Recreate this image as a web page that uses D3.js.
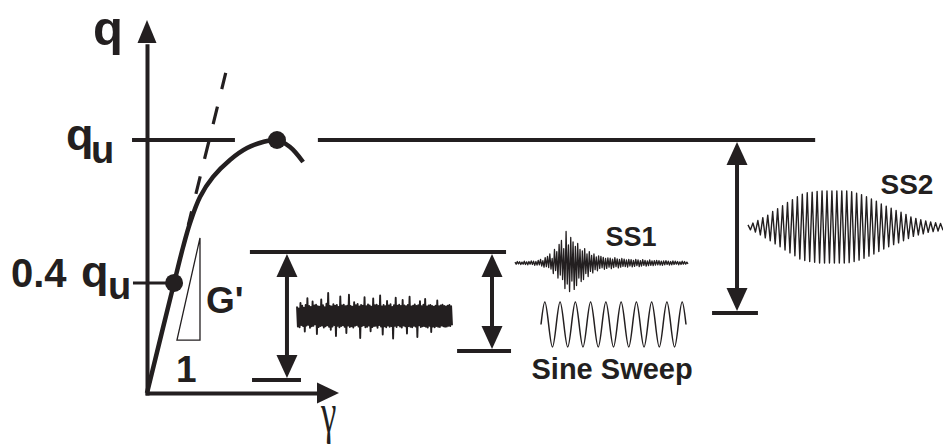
<!DOCTYPE html>
<html>
<head>
<meta charset="utf-8">
<script src="https://cdn.jsdelivr.net/npm/d3@7"></script>
<style>
  html, body { margin: 0; padding: 0; background: #fff; }
  #chart { width: 943px; height: 447px; }
  text { font-family: "Liberation Sans", Arial, sans-serif; font-weight: bold; fill: #231f20; }
</style>
</head>
<body>
<div id="chart"></div>
<script>
// stress-strain curve (gamma in arbitrary strain units, q as fraction of q_u)
var curveGamma = [0, 14.1, 18.8, 22.4, 27.6, 34.4, 43.2, 52.1, 60.4, 67.7, 74.5, 81.3];
var curveQ = [0, 0.435, 0.577, 0.672, 0.775, 0.854, 0.921, 0.968, 0.992, 1, 0.972, 0.913];

// initial tangent (G') and the slope triangle
var tangentGamma = [21.5, 41.0];
var tangentQ = [0.664, 1.265];
var slopeGamma = [27.6, 15.6, 27.6];
var slopeQ = [0.613, 0.209, 0.209];

// marked stress levels
var levelLabels = ["q_u", "0.4 q_u"];
var levelQ = [1, 0.435];
var markGamma = [67.7, 14.1];

// amplitude brackets for the three test signals
var bracketGamma = [72.9, 179.7, 307.3];
var bracketTop = [0.557, 0.557, 1];
var bracketBottom = [0.051, 0.166, 0.316];
var bracketFoot = [[54.7, 80.2], [161.5, 189.6], [294.3, 318.2]];

// signal names
var signalLabels = ["SS1", "Sine Sweep", "SS2"];

// white noise record (normalised amplitude)
var noise = [
  0.38,-0.42,0.30,-0.45,0.52,-0.36,0.41,-0.40,0.33,-0.62,
  0.44,-0.38,0.71,-0.35,0.40,-0.47,0.36,-0.41,0.58,-0.39,
  0.42,-0.33,0.45,-0.72,0.39,-0.44,0.37,-0.40,0.66,-0.38,
  0.43,-0.46,0.35,-0.41,0.49,-0.37,0.92,-0.43,0.40,-0.55,
  0.38,-0.42,0.47,-0.36,0.41,-0.80,0.44,-0.39,0.36,-0.45,
  0.78,-0.40,0.42,-0.37,0.45,-0.43,0.39,-0.68,0.41,-0.38,
  0.85,-0.44,0.40,-0.41,0.37,-0.46,0.55,-0.39,0.43,-0.36,
  0.48,-0.42,0.38,-0.88,0.44,-0.40,0.41,-0.37,0.75,-0.45,
  0.39,-0.43,0.46,-0.38,0.42,-0.61,0.37,-0.44,0.70,-0.40,
  0.43,-0.39,0.45,-0.47,0.40,-0.36,0.82,-0.42,0.38,-0.74,
  0.44,-0.41,0.39,-0.45,0.60,-0.38,0.42,-0.43,0.47,-0.40,
  0.36,-0.90,0.43,-0.39,0.73,-0.44,0.41,-0.37,0.45,-0.42,
  0.40,-0.46,0.64,-0.38,0.42,-0.41,0.39,-0.70,0.44,-0.40,
  0.77,-0.43,0.38,-0.45,0.41,-0.39,0.46,-0.42,0.40,-0.84,
  0.43,-0.37,0.59,-0.44,0.39,-0.41,0.45,-0.40,0.68,-0.43,
  0.38,-0.46,0.42,-0.39,0.44,-0.64,0.40,-0.42,0.37,-0.45,
  0.41,-0.40,0.62,-0.43,0.39,-0.44,0.42,-0.38,0.45,-0.41,
  0.40,-0.43,0.38,-0.42,0.41,-0.39,0.44,-0.40,0.39,-0.37
];

// earthquake-like record SS1
var ss1 = [
  0.03,-0.04,0.05,-0.03,0.04,-0.05,0.03,-0.04,0.06,-0.05,
  0.04,-0.06,0.05,-0.04,0.07,-0.05,0.06,-0.08,0.05,-0.07,
  0.09,-0.06,0.12,-0.10,0.08,-0.14,0.18,-0.12,0.22,-0.15,
  0.30,-0.20,0.15,-0.35,0.45,-0.25,0.38,-0.50,0.62,-0.40,
  0.75,-0.55,0.48,-0.85,1.05,-0.70,0.60,-0.95,0.85,-0.60,
  0.70,-0.88,0.55,-0.75,0.65,-0.50,0.45,-0.62,0.40,-0.55,
  0.48,-0.35,0.30,-0.45,0.38,-0.28,0.25,-0.33,0.30,-0.22,
  0.20,-0.26,0.24,-0.18,0.22,-0.16,0.19,-0.21,0.15,-0.18,
  0.17,-0.14,0.16,-0.19,0.13,-0.15,0.18,-0.12,0.14,-0.16,
  0.12,-0.14,0.15,-0.11,0.13,-0.12,0.10,-0.14,0.12,-0.10,
  0.11,-0.13,0.09,-0.11,0.12,-0.09,0.10,-0.12,0.08,-0.10,
  0.11,-0.08,0.09,-0.10,0.07,-0.09,0.10,-0.08,0.07,-0.09,
  0.08,-0.07,0.09,-0.06,0.08,-0.07,0.06,-0.08,0.07,-0.06,
  0.08,-0.05,0.06,-0.07,0.05,-0.06,0.07,-0.05,0.06,-0.04,
  0.05,-0.06,0.04,-0.05,0.06,-0.04,0.05,-0.04,0.03,-0.03
];

// sine sweep, sampled every quarter period
var sineSweep = [
  0, 1,0,-1,0, 1,0,-1,0, 1,0,-1,0, 1,0,-1,0, 1,0,-1,0,
  1,0,-1,0, 1,0,-1,0, 1,0,-1,0, 1,0,-1,0, 1,0
];

// SS2 wavelet, one value per half cycle
var ss2 = [
  0.06,-0.08,0.11,-0.14,0.18,-0.22,0.26,-0.30,0.33,-0.38,
  0.43,-0.47,0.51,-0.55,0.59,-0.64,0.68,-0.72,0.76,-0.80,
  0.84,-0.89,0.91,-0.93,0.95,-0.96,0.97,-0.98,0.99,-1.00,
  1.00,-1.00,1.00,-1.00,1.00,-1.00,1.00,-1.00,1.00,-1.00,
  1.00,-0.99,0.98,-0.96,0.94,-0.92,0.90,-0.87,0.84,-0.81,
  0.78,-0.75,0.72,-0.68,0.64,-0.61,0.58,-0.55,0.52,-0.49,
  0.46,-0.44,0.41,-0.38,0.35,-0.32,0.28,-0.26,0.24,-0.22,
  0.20,-0.19,0.17,-0.15,0.14,-0.13,0.12,-0.11,0.10,-0.09
];

var ink = "#231f20";
var svg = d3.select("#chart").append("svg")
  .attr("width", 943)
  .attr("height", 447);

var x = d3.scaleLinear().domain([0, 100]).range([147, 339]);
var y = d3.scaleLinear().domain([0, 1]).range([393, 140]);

function head(tx, ty, dx, dy, len, half) {
  // triangle with tip at (tx,ty) pointing along (dx,dy)
  var bx = tx - dx * len, by = ty - dy * len;
  var p = d3.path();
  p.moveTo(tx, ty);
  p.lineTo(bx - dy * half, by + dx * half);
  p.lineTo(bx + dy * half, by - dx * half);
  p.closePath();
  svg.append("path").attr("d", p.toString()).attr("fill", ink);
}

// axes
var xAxisScale = d3.scaleLinear().domain([-1, 92]).range([x(-1), x(92)]);
var yAxisScale = d3.scaleLinear().domain([-0.008, 1.38]).range([y(-0.008), y(1.38)]);

var xAxisG = svg.append("g").attr("transform", "translate(0," + y(0) + ")")
  .call(d3.axisBottom(xAxisScale).tickValues([]).tickSizeOuter(0));
var yAxisG = svg.append("g").attr("transform", "translate(" + x(0) + ",0)")
  .call(d3.axisLeft(yAxisScale).tickValues([]).tickSizeOuter(0));
svg.selectAll(".domain").attr("stroke", ink).attr("stroke-width", 4);
head(x(100), y(0), 1, 0, 22, 10.5);
head(x(0), y(1.474), 0, -1, 23, 9.5);

// level lines
svg.append("line")
  .attr("x1", x(-7.8)).attr("x2", x(45.8))
  .attr("y1", y(levelQ[0])).attr("y2", y(levelQ[0]))
  .attr("stroke", ink).attr("stroke-width", 4);
svg.append("line")
  .attr("x1", x(89)).attr("x2", x(348))
  .attr("y1", y(levelQ[0])).attr("y2", y(levelQ[0]))
  .attr("stroke", ink).attr("stroke-width", 4);
svg.append("line")
  .attr("x1", x(-7.3)).attr("x2", x(markGamma[1]))
  .attr("y1", y(levelQ[1])).attr("y2", y(levelQ[1]))
  .attr("stroke", ink).attr("stroke-width", 3);

// tangent
svg.append("line")
  .attr("x1", x(tangentGamma[0])).attr("y1", y(tangentQ[0]))
  .attr("x2", x(tangentGamma[1])).attr("y2", y(tangentQ[1]))
  .attr("stroke", ink).attr("stroke-width", 3.2)
  .attr("stroke-dasharray", "18,18").attr("stroke-dashoffset", 4);

// slope triangle
svg.append("path")
  .attr("d", d3.line().x(function (d) { return x(d[0]); }).y(function (d) { return y(d[1]); })
    (d3.zip(slopeGamma, slopeQ)) + "Z")
  .attr("fill", "none").attr("stroke", ink).attr("stroke-width", 1.3);

// curve
var curveLine = d3.line()
  .x(function (d) { return x(d[0]); })
  .y(function (d) { return y(d[1]); })
  .curve(d3.curveCatmullRom);
svg.append("path")
  .attr("d", curveLine(d3.zip(curveGamma, curveQ)))
  .attr("fill", "none").attr("stroke", ink).attr("stroke-width", 4.5);

svg.selectAll(".mark").data(markGamma).enter().append("circle")
  .attr("class", "mark")
  .attr("cx", function (d) { return x(d); })
  .attr("cy", function (d, i) { return y(levelQ[i]); })
  .attr("r", 9)
  .attr("fill", ink);

// brackets
bracketGamma.forEach(function (g, i) {
  var bx = x(g), yt = y(bracketTop[i]), yb = y(bracketBottom[i]);
  if (i === 0) {
    svg.append("line").attr("x1", x(53.6)).attr("x2", x(187))
      .attr("y1", yt).attr("y2", yt).attr("stroke", ink).attr("stroke-width", 4);
  }
  svg.append("line").attr("x1", x(bracketFoot[i][0])).attr("x2", x(bracketFoot[i][1]))
    .attr("y1", yb).attr("y2", yb).attr("stroke", ink).attr("stroke-width", 4);
  svg.append("line").attr("x1", bx).attr("x2", bx)
    .attr("y1", yt + 12).attr("y2", yb - 12)
    .attr("stroke", ink).attr("stroke-width", 4);
  head(bx, yt + 2, 0, -1, 23, 10.5);
  head(bx, yb - 2, 0, 1, 23, 10.5);
});

// signals
function drawSignal(values, x0, x1, cy, amp, width, curve) {
  var sx = d3.scaleLinear().domain([0, values.length - 1]).range([x0, x1]);
  var sy = d3.scaleLinear().domain([-1, 1]).range([cy + amp, cy - amp]);
  svg.append("path")
    .attr("d", d3.line().x(function (d, i) { return sx(i); }).y(function (d) { return sy(d); })
      .curve(curve || d3.curveLinear)(values))
    .attr("fill", "none").attr("stroke", ink).attr("stroke-width", width)
    .attr("stroke-linejoin", "round");
}
drawSignal(noise, 297, 452, 316, 25, 1.9);
drawSignal(ss1, 515, 688, 263, 30, 1.3);
drawSignal(sineSweep, 541, 686, 324.5, 22.5, 1.5, d3.curveNatural);
drawSignal(ss2, 748, 943, 227, 36, 1.4);

// labels
function label(str, px, py, size) {
  return svg.append("text").attr("x", px).attr("y", py)
    .style("font-size", size + "px").text(str);
}
label("q", 93, 45, 49);
label("q", 66, 150, 45);
label("u", 91, 163, 38);
label("0.4", 11, 287, 40);
label("q", 81, 287, 45);
label("u", 108, 299, 38);
label("G'", 206, 313, 37);
label("1", 176, 382, 37);
label(signalLabels[0], 605.5, 246, 27);
label(signalLabels[1], 531.5, 379, 29);
label(signalLabels[2], 880.5, 194, 28);

svg.append("text")
  .attr("transform", "translate(321,432) scale(0.6,1)")
  .style("font-family", "'Liberation Serif', serif")
  .style("font-weight", "normal")
  .style("font-size", "58px")
  .text("γ");
</script>
</body>
</html>
